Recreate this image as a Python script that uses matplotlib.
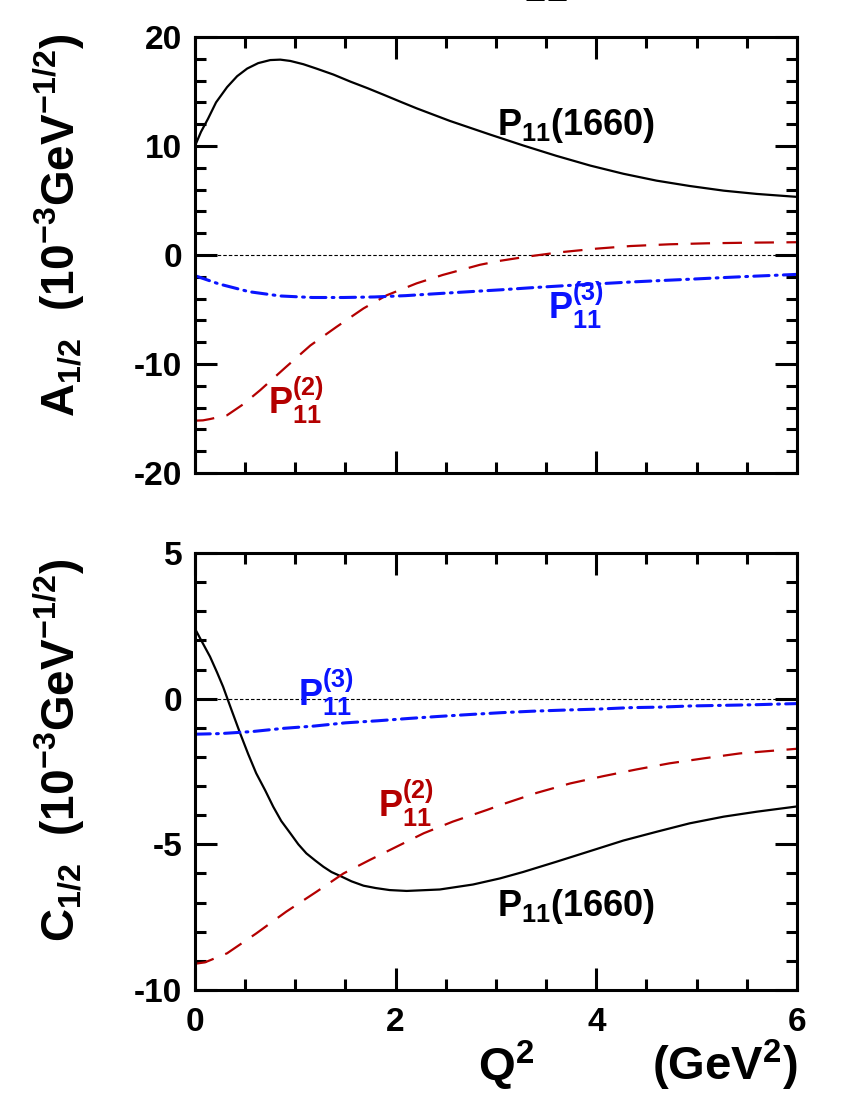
import numpy as np
import matplotlib
matplotlib.use('Agg')
import matplotlib.pyplot as plt
from matplotlib.ticker import MultipleLocator

plt.rcParams['font.family'] = ['Liberation Sans', 'DejaVu Sans']
plt.rcParams['font.weight'] = 'bold'
plt.rcParams['mathtext.fontset'] = 'custom'
plt.rcParams['mathtext.rm'] = 'Liberation Sans:bold'
plt.rcParams['mathtext.bf'] = 'Liberation Sans:bold'
plt.rcParams['mathtext.it'] = 'Liberation Sans:bold'
plt.rcParams['axes.unicode_minus'] = False
plt.rcParams['lines.scale_dashes'] = False

# ---- A_1/2 panel
a_black_x = [0, 0.06, 0.13, 0.21, 0.32, 0.42, 0.52, 0.63, 0.75, 0.85, 0.95, 1.08, 1.21, 1.38, 1.55, 1.72, 1.88, 2.05, 2.21, 2.54, 2.94, 3.27, 3.6, 3.94, 4.27, 4.6, 4.93, 5.27, 5.6, 6.0]
a_black_y = [10.0, 11.3, 12.5, 14.0, 15.4, 16.4, 17.1, 17.6, 17.88, 17.92, 17.8, 17.5, 17.1, 16.55, 15.9, 15.3, 14.7, 14.05, 13.45, 12.3, 11.05, 10.05, 9.1, 8.2, 7.45, 6.82, 6.33, 5.9, 5.6, 5.33]

a_red_x = [0, 0.08, 0.15, 0.32, 0.48, 0.65, 0.91, 1.15, 1.41, 1.68, 1.91, 2.21, 2.47, 2.84, 3.03, 3.31, 3.64, 4.0, 4.34, 4.73, 5.1, 5.53, 6.0]
a_red_y = [-15.2, -15.17, -15.05, -14.7, -13.7, -12.4, -10.25, -8.3, -6.6, -4.9, -3.7, -2.6, -1.83, -0.9, -0.55, -0.15, 0.25, 0.58, 0.82, 0.98, 1.07, 1.13, 1.17]

a_blue_x = [0, 0.24, 0.54, 0.85, 1.17, 1.48, 1.79, 2.1, 2.41, 2.73, 3.04, 3.36, 3.68, 3.99, 4.3, 4.61, 4.92, 5.25, 5.56, 5.87, 6.0]
a_blue_y = [-1.9, -2.66, -3.37, -3.76, -3.9, -3.9, -3.85, -3.73, -3.55, -3.37, -3.2, -3.0, -2.82, -2.66, -2.5, -2.36, -2.23, -2.08, -1.95, -1.83, -1.78]

# ---- C_1/2 panel
c_black_x = [0, 0.07, 0.15, 0.22, 0.28, 0.36, 0.45, 0.53, 0.61, 0.7, 0.78, 0.86, 0.95, 1.03, 1.11, 1.2, 1.28, 1.36, 1.45, 1.56, 1.68, 1.8, 1.94, 2.11, 2.44, 2.77, 3.04, 3.27, 3.6, 3.94, 4.27, 4.6, 4.93, 5.27, 5.6, 6.0]
c_black_y = [2.4, 1.95, 1.44, 0.9, 0.41, -0.35, -1.19, -1.9, -2.56, -3.15, -3.71, -4.2, -4.62, -5.0, -5.31, -5.56, -5.77, -5.95, -6.09, -6.27, -6.42, -6.5, -6.57, -6.6, -6.55, -6.38, -6.17, -5.95, -5.6, -5.23, -4.87, -4.57, -4.28, -4.05, -3.88, -3.7]

c_red_x = [0, 0.1, 0.32, 0.61, 0.91, 1.21, 1.48, 1.74, 2.01, 2.28, 2.57, 2.91, 3.07, 3.41, 3.74, 4.07, 4.4, 4.73, 5.07, 5.43, 6.0]
c_red_y = [-9.1, -9.05, -8.74, -8.06, -7.31, -6.63, -6.0, -5.54, -5.08, -4.62, -4.22, -3.82, -3.62, -3.23, -2.91, -2.66, -2.43, -2.22, -2.05, -1.88, -1.72]

c_blue_x = [0, 0.25, 0.57, 0.88, 1.19, 1.5, 1.82, 2.13, 2.43, 2.76, 3.06, 3.37, 3.7, 4.01, 4.33, 4.64, 4.95, 5.27, 5.57, 5.88, 6.0]
c_blue_y = [-1.22, -1.2, -1.13, -1.02, -0.94, -0.83, -0.76, -0.68, -0.61, -0.54, -0.48, -0.43, -0.39, -0.36, -0.31, -0.29, -0.25, -0.23, -0.21, -0.18, -0.17]

RED = '#b40000'
BLUE = '#0a14ff'

fig = plt.figure(figsize=(8.5, 11), dpi=100)
ax1 = fig.add_axes([0.2294, 0.570, 0.7082, 0.3964])
ax2 = fig.add_axes([0.2294, 0.100, 0.7082, 0.3973])


def style_axis(ax, ylo, yhi, ymaj, ymin):
    ax.set_xlim(0, 6)
    ax.set_ylim(ylo, yhi)
    ax.xaxis.set_major_locator(MultipleLocator(2))
    ax.xaxis.set_minor_locator(MultipleLocator(0.5))
    ax.yaxis.set_major_locator(MultipleLocator(ymaj))
    ax.yaxis.set_minor_locator(MultipleLocator(ymin))
    ax.tick_params(which='both', direction='in', top=True, right=True, width=2.2)
    ax.tick_params(which='major', length=16, labelsize=24, pad=9)
    ax.tick_params(axis='x', which='major', pad=12)
    ax.tick_params(which='minor', length=8)
    for s in ax.spines.values():
        s.set_linewidth(2.2)
    ax.axhline(0, color='black', lw=0.8, ls=(0, (2.5, 1.5)), zorder=1)


def draw_curves(ax, bx, by, rx, ry, ux, uy):
    ax.plot(bx, by, color='black', lw=1.6)
    ax.plot(rx, ry, color=RED, lw=1.6, ls=(0, (14, 9)))
    ax.plot(ux, uy, color=BLUE, lw=2.2, ls=(0, (11, 4.5, 1.3, 4.5)),
            dash_capstyle='round')


style_axis(ax1, -20, 20, 10, 2)
draw_curves(ax1, a_black_x, a_black_y, a_red_x, a_red_y, a_blue_x, a_blue_y)
ax1.tick_params(labelbottom=False)

style_axis(ax2, -10, 5, 5, 1)
draw_curves(ax2, c_black_x, c_black_y, c_red_x, c_red_y, c_blue_x, c_blue_y)

fs = 26
ax1.text(3.01, 11.0, r'$\mathrm{P_{11}(1660)}$', fontsize=fs, color='black')
ax1.text(0.73, -14.6, r'$\mathrm{P_{11}^{(2)}}$', fontsize=fs, color=RED)
ax1.text(3.52, -5.9, r'$\mathrm{P_{11}^{(3)}}$', fontsize=fs, color=BLUE)

ax2.text(3.01, -7.45, r'$\mathrm{P_{11}(1660)}$', fontsize=fs, color='black')
ax2.text(1.82, -4.05, r'$\mathrm{P_{11}^{(2)}}$', fontsize=fs, color=RED)
ax2.text(1.03, -0.25, r'$\mathrm{P_{11}^{(3)}}$', fontsize=fs, color=BLUE)

ax1.set_ylabel(r'$\mathrm{A_{1/2}\ \ (10^{-3}GeV^{-1/2})}$', fontsize=33)
ax2.set_ylabel(r'$\mathrm{C_{1/2}\ \ (10^{-3}GeV^{-1/2})}$', fontsize=33)
ax1.yaxis.set_label_coords(-0.18, 0.568)
ax2.yaxis.set_label_coords(-0.18, 0.548)

fig.text(0.595, 0.006, r'$\mathrm{Q^{2}}$', fontsize=34, ha='center', va='bottom')
fig.text(0.938, 0.006, r'$\mathrm{(GeV^{2})}$', fontsize=34, ha='right', va='bottom')

# title of the original panel, cut off by the top edge
fig.text(0.62, 0.9955, r'$\mathrm{P_{11}}$', fontsize=40, ha='center', va='bottom')

fig.savefig('out.png', dpi=100)
